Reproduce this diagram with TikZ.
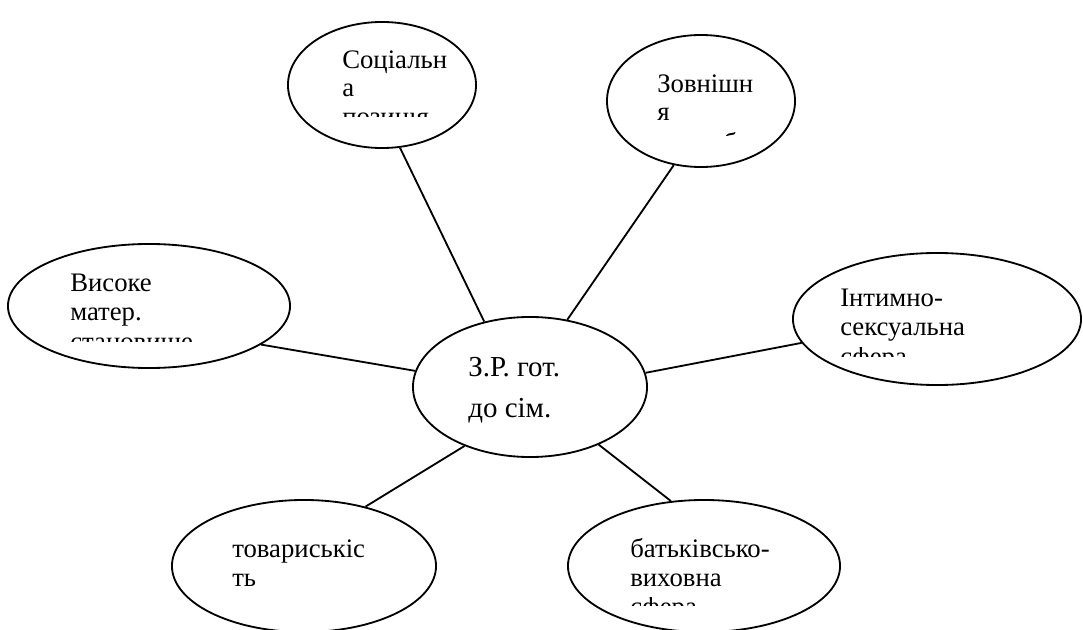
\documentclass[tikz,border=0pt]{standalone}
\usepackage{fontspec}
\setmainfont{Liberation Serif}
\usepackage{tikz}
\usetikzlibrary{shapes.geometric}

\begin{document}
\begin{tikzpicture}[x=0.025cm, y=-0.025cm]
	\useasboundingbox (0,0) rectangle (1083,630);
	
	\begin{scope}[
		bubble/.style={draw, ellipse, fill=white, line width=1.3pt, inner sep=0pt},
		words/.style={anchor=base west, align=left, inner sep=0pt, font=\fontsize{19}{20.6}\selectfont}]
		\node[bubble, minimum width=5.85cm, minimum height=3.5cm] (C) at (530, 387) {};
		
		\node[bubble, minimum width=4.7cm, minimum height=3.15cm] (S) at (382, 85) {};
		\node[bubble, minimum width=4.7cm, minimum height=3.3cm] (Z) at (701, 101) {};
		
		\node[bubble, minimum width=7.05cm, minimum height=3.1cm] (V) at (149, 306) {};
		\node[bubble, minimum width=7.2cm, minimum height=3.3cm] (I) at (937, 319) {};
		
		\node[bubble, minimum width=6.6cm, minimum height=3.3cm] (T) at (304, 566) {};
		\node[bubble, minimum width=6.8cm, minimum height=3.3cm] (B) at (704, 566) {};
		
		% anchor sits on the baseline of the last line
		\node[words, font=\fontsize{20.6}{29}\selectfont] (Ct) at (468, 417) {З.Р. гот.\\до сім.};
		\node[words] (St) at (342, 97) {Соціальн\\а};
		\node[words] (Zt) at (657, 121) {Зовнішн\\я};
		\node[words] (Vt) at (70, 320) {Високе\\матер.};
		\node[words] (It) at (840, 335) {Інтимно-\\сексуальна};
		\node[words] (Tt) at (232, 586) {товариськіс\\ть};
		\node[words] (Bt) at (630, 586) {батьківсько-\\виховна};
		
		% third lines, cut off by the text box
		\begin{scope}
			\clip (330, 112) rectangle (470, 117);
			\node[words] (Sc) at (342, 126) {позиція};
		\end{scope}
		\begin{scope}
			\clip (650, 131) rectangle (760, 136);
			\node[words] (Zc) at (657, 151) {привабливість};
		\end{scope}
		\begin{scope}
			\clip (60, 335) rectangle (210, 341);
			\node[words] (Vc) at (70, 350) {становище};
		\end{scope}
		\begin{scope}
			\clip (830, 347) rectangle (930, 356);
			\node[words] (Ic) at (840, 365) {сфера};
		\end{scope}
		\begin{scope}
			\clip (620, 597) rectangle (720, 605);
			\node[words] (Bc) at (630, 615) {сфера};
		\end{scope}
	\end{scope}
	
	\draw[-, line width=1.3pt] (S.286) edge (C.125);
	\draw[-, line width=1.3pt] (Z.247) edge (C.61);
	\draw[-, line width=1.3pt] (V.341) edge (C.172);
	\draw[-, line width=1.3pt] (I.190) edge (C.7);
	\draw[-, line width=1.3pt] (T.44) edge (C.222);
	\draw[-, line width=1.3pt] (B.117) edge (C.320);
\end{tikzpicture}
\end{document}
